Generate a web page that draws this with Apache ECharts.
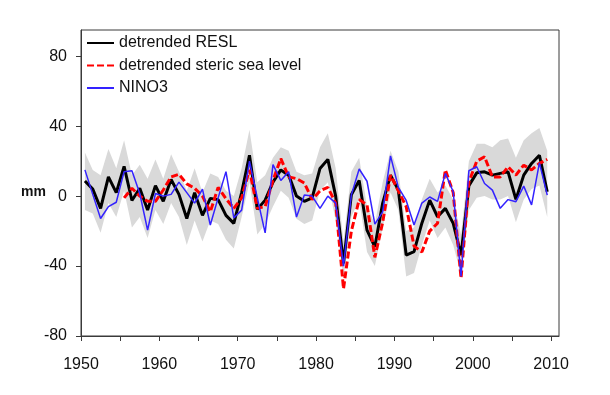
<!DOCTYPE html>
<html>
<head>
<meta charset="utf-8">
<script src="https://cdn.jsdelivr.net/npm/echarts@6/dist/echarts.min.js"></script>
<style>html,body{margin:0;padding:0;background:#fff;}#c{width:610px;height:395px;}</style>
</head>
<body>
<div id="c"></div>
<script>
// Years 1950..2009 (annual means, plotted at mid-year)
var years = [];
for (var yr = 1950; yr <= 2009; yr++) years.push(yr);

var resl = [8.6, 4, -7, 11, 2, 17, -2.5, 4.5, -8, 6,
            -3, 9.5, 1, -12.8, 2, -11, -1.3, -2, -11, -15.6,
            2, 23.4, -7.6, -2.3, 8, 15, 12, 0, -3, -1,
            15.8, 21, 0, -38.5, 0.8, 9, -19.5, -29, -4, 12,
            3.4, -33.7, -31.8, -15.5, -2.3, -11.8, -7, -15.6, -33.7, 6,
            13.3, 13.9, 12, 13, 13.9, -1.9, 12, 18.7, 23.4, 2.5];

var steric = [null, null, null, null, null, -1, 4.5, 0, -3, -3,
              3.5, 11, 12.5, 7, 4.5, 0, -9, 5, -1.5, -7,
              -1, 15, -7, -6, 9, 21.5, 11, 10, 7.5, -2,
              3, 5, -4, -53, -20, -2, -5, -35, -15, 12,
              3, -6, -28.5, -32, -20, -15.5, 15, 2, -47, 8,
              20, 22.5, 11, 11, 16.8, 12, 17.7, 15, 18.7, 21];

var nino3 = [15, 1, -12.8, -6, -3.5, 14, 14.5, 1.5, -19.5, 1.5,
             0, 1, 8, 2, -4, 4, -16.5, -1, 14, -12.5,
             -8, 20, -1, -21, 18, 9, 14, -12, 0.6, 0,
             -7, 0, -4, -40, 0.6, 15.5, 8.5, -16, -9, 23,
             5, -2.5, -16.5, -4, -0.5, -3, 13, 2.5, -46, 14.5,
             16.8, 7.2, 3.4, -7, -2, -3.2, 5.7, -5, 19, 0.6];

var bandUpper = [25, 15, 12, 27, 16, 32, 12, 18, 10, 21,
                 10, 24, 14, 3, 16, 2, 13, 11, 3, 0,
                 16, 38, 8, 12, 22, 28, 26, 14, 12, 13,
                 28, 36, 16, -26, 14, 22, -6, -16, 8, 26,
                 14, -20, -18, -2, 10, 2, 6, -2, -22, 20,
                 30, 30, 28, 32, 33, 22, 32, 36, 39, 26];

var bandLower = [-8, -10, -21, -4, -12, 3, -18, -12, -24, -8,
                 -16, -4, -12, -28, -14, -26, -14, -16, -25, -30,
                 -12, 8, -22, -16, -6, 3, -1, -13, -16, -14,
                 3, 8, -14, -47, -12, -2, -32, -40, -18, 2,
                 -8, -46, -44, -28, -14, -24, -18, -28, -45, -8,
                 -1, 0, -2, -2, 0, -15, -2, 4, 6, -12];

var xTickLabels = [1950, 1960, 1970, 1980, 1990, 2000, 2010];
var xTicks = [1950, 1955, 1960, 1965, 1970, 1975, 1980, 1985, 1990, 1995, 2000, 2005, 2010];
var yTickLabels = [-80, -40, 0, 40, 80];
var seriesNames = ['detrended RESL', 'detrended steric sea level', 'NINO3'];

function pairs(vals) {
  var out = [];
  for (var i = 0; i < years.length; i++) {
    if (vals[i] !== null) out.push([years[i] + 0.5, vals[i]]);
  }
  return out;
}

var FONT = '"Liberation Sans", Arial, sans-serif';
var chart = echarts.init(document.getElementById('c'), null, {renderer: 'canvas'});
chart.setOption({
  animation: false,
  backgroundColor: '#ffffff',
  grid: {left: 81, right: 51, top: 30, bottom: 59, show: true, borderColor: '#3a3a3a', borderWidth: 1, backgroundColor: 'transparent'},
  legend: {
    data: seriesNames,
    orient: 'vertical',
    left: 81, top: 30,
    itemWidth: 27, itemHeight: 12, itemGap: 6.5,
    textStyle: {fontFamily: FONT, fontSize: 16, color: '#111', lineHeight: 16},
    itemStyle: {color: 'transparent', borderColor: 'transparent', borderWidth: 0}
  },
  xAxis: {
    type: 'value', min: 1950, max: 2011,
    axisLine: {show: true, onZero: false, lineStyle: {color: '#3a3a3a', width: 1}},
    axisTick: {show: true, inside: false, length: 5, customValues: xTicks, lineStyle: {color: '#3a3a3a'}},
    axisLabel: {customValues: xTickLabels, margin: 21, fontFamily: FONT, fontSize: 16, color: '#111',
                formatter: function (v) { return String(v); }},
    splitLine: {show: false}
  },
  yAxis: {
    type: 'value', min: -80, max: 95,
    axisLine: {show: true, onZero: false, lineStyle: {color: '#3a3a3a', width: 1}},
    axisTick: {show: true, inside: false, length: 5, customValues: yTickLabels, lineStyle: {color: '#3a3a3a'}},
    axisLabel: {customValues: yTickLabels, margin: 14, fontFamily: FONT, fontSize: 16, color: '#111'},
    splitLine: {show: false}
  },
  graphic: [{
    type: 'text', left: 21, top: 185,
    style: {text: 'mm', font: 'bold 14px ' + FONT, fill: '#111'}
  }],
  series: [
    {
      type: 'custom', name: 'band', silent: true, z: 1,
      data: years.map(function (y, i) { return [y + 0.5, bandUpper[i], bandLower[i]]; }),
      encode: {x: 0, y: [1, 2]},
      renderItem: function (params, api) {
        if (params.dataIndex !== 0) return null;
        var pts = [];
        for (var i = 0; i < years.length; i++) pts.push(api.coord([years[i] + 0.5, bandUpper[i]]));
        for (var j = years.length - 1; j >= 0; j--) pts.push(api.coord([years[j] + 0.5, bandLower[j]]));
        return {type: 'polygon', shape: {points: pts}, style: {fill: '#d9d9d9', stroke: null}};
      }
    },
    {
      type: 'line', name: seriesNames[0], data: pairs(resl), z: 3,
      symbol: 'none', color: '#000000',
      lineStyle: {color: '#000000', width: 3}
    },
    {
      type: 'line', name: seriesNames[1], data: pairs(steric), z: 4,
      symbol: 'none', color: '#ff0000',
      lineStyle: {color: '#ff0000', width: 3, type: [7, 3]}
    },
    {
      type: 'line', name: seriesNames[2], data: pairs(nino3), z: 5,
      symbol: 'none', color: '#3322ff',
      lineStyle: {color: '#3322ff', width: 1.5}
    }
  ]
});
</script>
</body>
</html>
